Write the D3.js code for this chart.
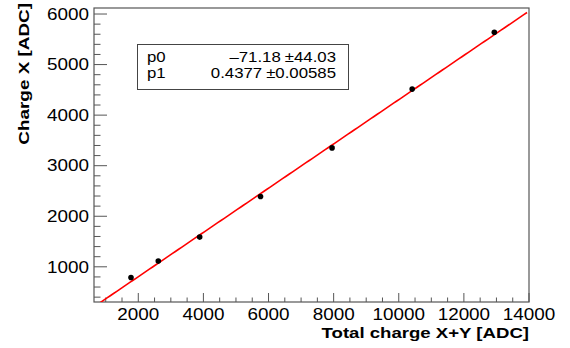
<!DOCTYPE html>
<html><head><meta charset="utf-8">
<script src="https://cdn.jsdelivr.net/npm/d3@7"></script>
<style>body{margin:0;background:#fff}svg{display:block}text{font-family:"Liberation Sans",Arial,sans-serif}</style>
</head><body>
<script>
const totalCharge = [1776, 2614, 3886, 5754, 7951, 10412, 12935];
const chargeX = [790, 1113, 1588, 2390, 3352, 4515, 5638];
const xTicks = [2000, 4000, 6000, 8000, 10000, 12000, 14000];
const yTicks = [1000, 2000, 3000, 4000, 5000, 6000];
const fitNames = ["p0", "p1"];
const fitValues = ["\u201371.18", "0.4377"];
const fitErrors = ["44.03", "0.00585"];
const p0 = -71.18, p1 = 0.4377;
const xTitle = "Total charge X+Y [ADC]";
const yTitle = "Charge X [ADC]";

const W = 570, H = 348;
const L = 94, R = 529, T = 8, B = 302;
const svg = d3.select("body").append("svg").attr("width", W).attr("height", H);
const x = d3.scaleLinear().domain([640, 14000]).range([L, R]);
const y = d3.scaleLinear().domain([304, 6119]).range([B, T]);
const axisCol = "#555";

svg.append("clipPath").attr("id", "c").append("rect").attr("x", L).attr("y", T).attr("width", R - L).attr("height", B - T);

// minor ticks
const xMinor = d3.range(1000, 14001, 500);
const yMinor = d3.range(400, 6101, 200);
svg.append("g").selectAll("line").data(xMinor).join("line")
  .attr("x1", d => x(d)).attr("x2", d => x(d))
  .attr("y1", B).attr("y2", d => B - (xTicks.includes(d) ? 9 : 4.5))
  .attr("stroke", axisCol).attr("stroke-width", 1);
svg.append("g").selectAll("line").data(yMinor).join("line")
  .attr("y1", d => y(d)).attr("y2", d => y(d))
  .attr("x1", L).attr("x2", d => L + (yTicks.includes(d) ? 13 : 6.5))
  .attr("stroke", axisCol).attr("stroke-width", 1);

// frame
svg.append("rect").attr("x", L).attr("y", T).attr("width", R - L).attr("height", B - T)
  .attr("fill", "none").attr("stroke", axisCol).attr("stroke-width", 1.2);

function stretchedText(g, tx, ty, str, opts) {
  const t = g.append("text").text(str)
    .attr("font-size", opts.size)
    .attr("font-weight", opts.weight || "normal")
    .attr("text-anchor", opts.anchor || "start")
    .attr("fill", "#000");
  const rot = opts.rotate ? ` rotate(${opts.rotate})` : "";
  t.attr("transform", `translate(${tx},${ty})${rot} scale(${opts.sx},1)`);
  return t;
}

// tick labels
const gl = svg.append("g");
xTicks.forEach(v => stretchedText(gl, x(v), 319.5, d3.format("d")(v), {size: 16, anchor: "middle", sx: 1.18}));
yTicks.forEach(v => stretchedText(gl, 89, y(v) + 5.7, d3.format("d")(v), {size: 16, anchor: "end", sx: 1.18}));

// titles
stretchedText(gl, R, 337.5, xTitle, {size: 15.5, weight: "bold", anchor: "end", sx: 1.2});
stretchedText(gl, 28.5, 3, yTitle, {size: 15.5, weight: "bold", anchor: "end", rotate: -90, sx: 1.22});

// fit line
const xs = d3.range(640, 14001, 100);
svg.append("path").attr("clip-path", "url(#c)")
  .attr("d", d3.line().x(d => x(d)).y(d => y(p0 + p1 * d))(xs))
  .attr("fill", "none").attr("stroke", "#ff0000").attr("stroke-width", 1.6);

// points
svg.append("g").selectAll("circle").data(totalCharge).join("circle")
  .attr("cx", d => x(d)).attr("cy", (d, i) => y(chargeX[i])).attr("r", 2.8).attr("fill", "#000");

// stat box
svg.append("rect").attr("x", 137.5).attr("y", 44.5).attr("width", 211).attr("height", 45)
  .attr("fill", "#fff").attr("stroke", "#444").attr("stroke-width", 1);
const gs = svg.append("g");
fitNames.forEach((n, i) => {
  const by = 62 + i * 15.5;
  stretchedText(gs, 147, by, n, {size: 15, anchor: "start", sx: 1.12});
  const e = stretchedText(gs, 336, by, "\u00b1" + fitErrors[i], {size: 15, anchor: "end", sx: 1.12});
  const w = e.node().getComputedTextLength() * 1.12;
  stretchedText(gs, 336 - w - 4, by, fitValues[i], {size: 15, anchor: "end", sx: 1.12});
});
</script>
</body></html>
